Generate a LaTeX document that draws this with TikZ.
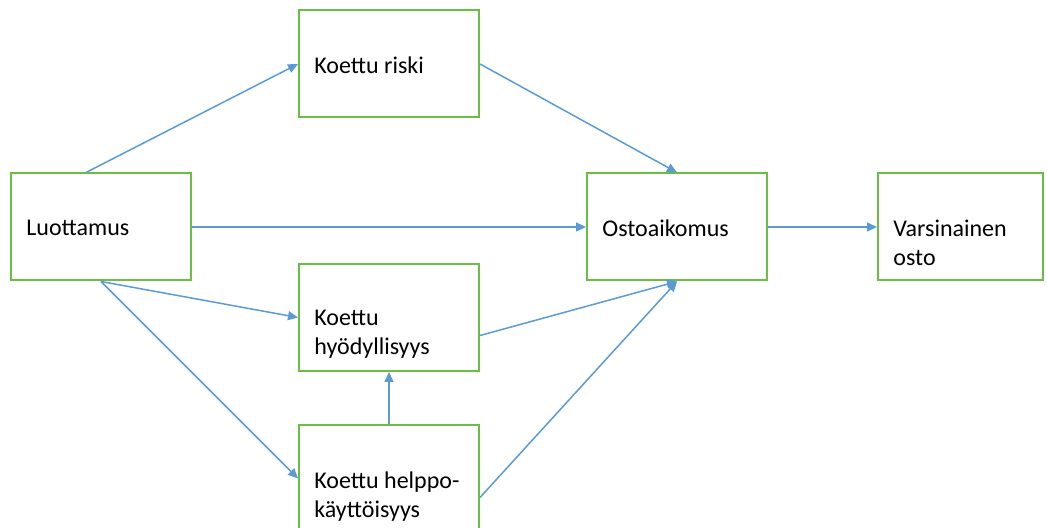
\documentclass[tikz,border=0pt]{standalone}
\usepackage{fontspec}
\setmainfont{Carlito}
\usetikzlibrary{arrows.meta,positioning,calc}
\definecolor{boxgreen}{RGB}{108,189,69}
\definecolor{arrblue}{RGB}{91,155,213}

\begin{document}
\begin{tikzpicture}[
  x=0.5pt, y=-0.5pt,
  font=\fontsize{12}{14.5}\selectfont,
  box/.style={draw=boxgreen, line width=1pt, minimum width=90pt,
    minimum height=53.5pt, inner sep=0pt},
  txt/.style={anchor=north west, align=left, inner sep=0pt},
  arr/.style={-{Triangle[length=5pt,width=4.5pt]}, draw=arrblue, line width=0.75pt}
]
\useasboundingbox (0,0) rectangle (1047,528);
\node[box] (luot) at (101,227) {};
\node[box] (riski) at (389,64) {};
\node[box] (osto) at (677,227) {};
\node[box, minimum width=82.5pt, right=54.5pt of osto] (vars) {};
\node[box] (hyod) at (389,317.5) {};
\node[box, below=26pt of hyod] (helppo) {};

\node[txt] (luotTxt) at ([xshift=8pt,yshift=-23.5pt]luot.north west) {Luottamus};
\node[txt] (riskiTxt) at ([xshift=8pt,yshift=-23.5pt]riski.north west) {Koettu riski};
\node[txt] (ostoTxt) at ([xshift=8pt,yshift=-23.5pt]osto.north west) {Ostoaikomus};
\node[txt] (varsTxt) at ([xshift=8pt,yshift=-23.5pt]vars.north west) {Varsinainen\\osto};
\node[txt] (hyodTxt) at ([xshift=8pt,yshift=-23.5pt]hyod.north west) {Koettu\\hyödyllisyys};
\node[txt] (helppoTxt) at ([xshift=8pt,yshift=-23.5pt]helppo.north west) {Koettu helppo-\\käyttöisyys};

\draw[arr] ([xshift=-7.5pt]luot.north) -- (riski.west);
\draw[arr] (riski.east) -- (osto.north);
\draw[arr] (luot.east) -- (osto.west);
\draw[arr] (luot.south) -- (hyod.west);
\draw[arr] (luot.south) -- (helppo.west);
\draw[arr] ([yshift=-9pt]hyod.east) -- (osto.south);
\draw[arr] ([yshift=-9.5pt]helppo.east) -- (osto.south);
\draw[arr] (helppo.north) -- (hyod.south);
\draw[arr] (osto.east) -- (vars.west);
\end{tikzpicture}
\end{document}
